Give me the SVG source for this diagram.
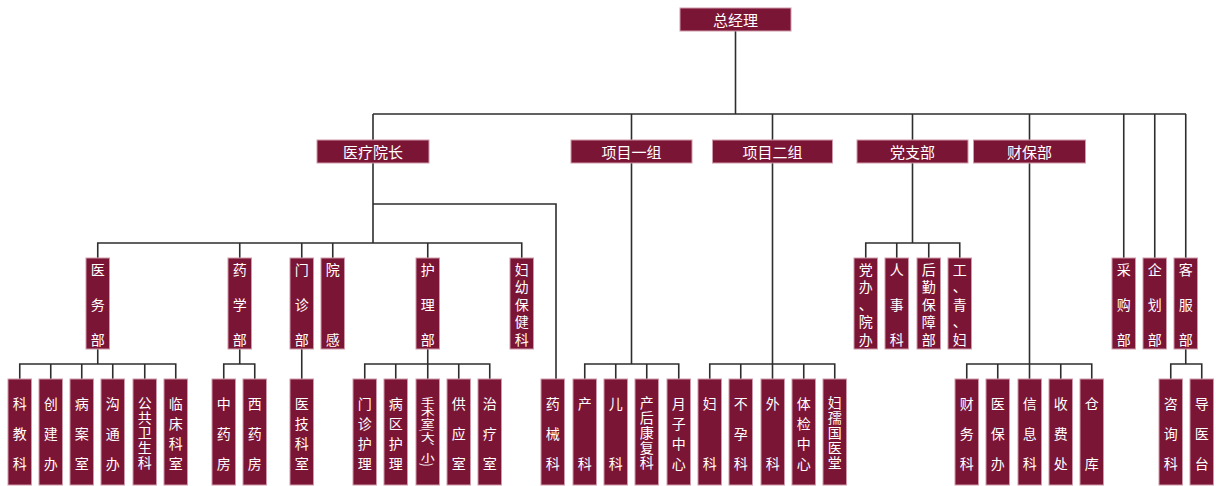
<svg xmlns="http://www.w3.org/2000/svg" width="1216" height="486" viewBox="0 0 1216 486">
<style>
.b{fill:#7b1535;stroke:#cf9aaa;stroke-width:1}
.t{fill:#ffffff;font-family:"Noto Sans CJK SC","Noto Sans",sans-serif;font-size:14px;text-anchor:middle;dominant-baseline:central}
.h{font-size:15px}
.v{writing-mode:vertical-rl;letter-spacing:1px}
#connectors path{fill:none;stroke:#2e2e2e;stroke-width:1.6}
</style>
<rect width="1216" height="486" fill="#ffffff"/>
<g id="connectors">
<path d="M735.5 31V114M373 114H1186M373 114V140M631.5 114V140M772.5 114V140M912.5 114V140M1029.5 114V140M1123.75 114V258M1154.75 114V258M1185.75 114V258"/>
<path d="M373 163V243M97.75 258V243H521.75V258M239.75 243V258M301.75 243V258M332.75 243V258M427.75 243V258"/>
<path d="M373 204H556V379"/>
<path d="M97.75 349V364M19.75 379V364H175.75V379M50.75 364V379M81.75 364V379M112.75 364V379M144.75 364V379"/>
<path d="M239.75 349V364M223.75 379V364H254.75V379"/>
<path d="M301.75 349V379"/>
<path d="M427.75 349V379M364.75 379V364H489.75V379M395.75 364V379M458.75 364V379"/>
<path d="M631.5 163V364M584.75 379V364H678.75V379M615.75 364V379M646.75 364V379"/>
<path d="M772.5 163V379M709.75 379V364H834.75V379M740.75 364V379M803.75 364V379"/>
<path d="M912.5 163V243M865.75 258V243H959.75V258M896.75 243V258M928.75 243V258"/>
<path d="M1029.5 163V379M966.75 379V364H1091.75V379M997.75 364V379M1060.75 364V379"/>
<path d="M1185.75 349V364M1170.75 379V364H1201.75V379"/>
</g>
<g id="n-zjl"><rect class="b" x="680" y="8" width="111" height="23"/><text class="t h" x="735.5" y="19.5">总经理</text></g>
<g id="n-ylyz"><rect class="b" x="317" y="140" width="112" height="23"/><text class="t h" x="373" y="151.5">医疗院长</text></g>
<g id="n-xm1"><rect class="b" x="571" y="140" width="121" height="23"/><text class="t h" x="631.5" y="151.5">项目一组</text></g>
<g id="n-xm2"><rect class="b" x="712.5" y="140" width="120" height="23"/><text class="t h" x="772.5" y="151.5">项目二组</text></g>
<g id="n-dzb"><rect class="b" x="857" y="140" width="111" height="23"/><text class="t h" x="912.5" y="151.5">党支部</text></g>
<g id="n-cbb"><rect class="b" x="973.5" y="140" width="112" height="23"/><text class="t h" x="1029.5" y="151.5">财保部</text></g>

<g id="n-ywb"><rect class="b" x="86" y="258" width="23.5" height="91"/><text class="t"><tspan x="97.75" y="268.5">医</tspan><tspan x="97.75" y="303.75">务</tspan><tspan x="97.75" y="339">部</tspan></text></g>
<g id="n-yxb"><rect class="b" x="228" y="258" width="23.5" height="91"/><text class="t"><tspan x="239.75" y="268.5">药</tspan><tspan x="239.75" y="303.75">学</tspan><tspan x="239.75" y="339">部</tspan></text></g>
<g id="n-mzb"><rect class="b" x="290" y="258" width="23.5" height="91"/><text class="t"><tspan x="301.75" y="268.5">门</tspan><tspan x="301.75" y="303.75">诊</tspan><tspan x="301.75" y="339">部</tspan></text></g>
<g id="n-yg"><rect class="b" x="321" y="258" width="23.5" height="91"/><text class="t"><tspan x="332.75" y="268.5">院</tspan><tspan x="332.75" y="339">感</tspan></text></g>
<g id="n-hlb"><rect class="b" x="416" y="258" width="23.5" height="91"/><text class="t"><tspan x="427.75" y="268.5">护</tspan><tspan x="427.75" y="303.75">理</tspan><tspan x="427.75" y="339">部</tspan></text></g>
<g id="n-fybjk"><rect class="b" x="510" y="258" width="23.5" height="91"/><text class="t"><tspan x="521.75" y="268.5">妇</tspan><tspan x="521.75" y="286.1">幼</tspan><tspan x="521.75" y="303.75">保</tspan><tspan x="521.75" y="321.4">健</tspan><tspan x="521.75" y="339">科</tspan></text></g>
<g id="n-dbyb"><rect class="b" x="854" y="258" width="23.5" height="91"/><text class="t"><tspan x="865.75" y="268.5">党</tspan><tspan x="865.75" y="286.1">办</tspan><tspan x="865.75" y="303.75">、</tspan><tspan x="865.75" y="321.4">院</tspan><tspan x="865.75" y="339">办</tspan></text></g>
<g id="n-rsk"><rect class="b" x="885" y="258" width="23.5" height="91"/><text class="t"><tspan x="896.75" y="268.5">人</tspan><tspan x="896.75" y="303.75">事</tspan><tspan x="896.75" y="339">科</tspan></text></g>
<g id="n-hqbzb"><rect class="b" x="917" y="258" width="23.5" height="91"/><text class="t"><tspan x="928.75" y="268.5">后</tspan><tspan x="928.75" y="286.1">勤</tspan><tspan x="928.75" y="303.75">保</tspan><tspan x="928.75" y="321.4">障</tspan><tspan x="928.75" y="339">部</tspan></text></g>
<g id="n-gqf"><rect class="b" x="948" y="258" width="23.5" height="91"/><text class="t"><tspan x="959.75" y="268.5">工</tspan><tspan x="959.75" y="286.1">、</tspan><tspan x="959.75" y="303.75">青</tspan><tspan x="959.75" y="321.4">、</tspan><tspan x="959.75" y="339">妇</tspan></text></g>
<g id="n-cgb"><rect class="b" x="1112" y="258" width="23.5" height="91"/><text class="t"><tspan x="1123.75" y="268.5">采</tspan><tspan x="1123.75" y="303.75">购</tspan><tspan x="1123.75" y="339">部</tspan></text></g>
<g id="n-qhb"><rect class="b" x="1143" y="258" width="23.5" height="91"/><text class="t"><tspan x="1154.75" y="268.5">企</tspan><tspan x="1154.75" y="303.75">划</tspan><tspan x="1154.75" y="339">部</tspan></text></g>
<g id="n-kfb"><rect class="b" x="1174" y="258" width="23.5" height="91"/><text class="t"><tspan x="1185.75" y="268.5">客</tspan><tspan x="1185.75" y="303.75">服</tspan><tspan x="1185.75" y="339">部</tspan></text></g>

<g id="n-kjk"><rect class="b" x="8" y="379" width="23.5" height="106"/><text class="t"><tspan x="19.75" y="403">科</tspan><tspan x="19.75" y="433">教</tspan><tspan x="19.75" y="463">科</tspan></text></g>
<g id="n-cjb"><rect class="b" x="39" y="379" width="23.5" height="106"/><text class="t"><tspan x="50.75" y="403">创</tspan><tspan x="50.75" y="433">建</tspan><tspan x="50.75" y="463">办</tspan></text></g>
<g id="n-bas"><rect class="b" x="70" y="379" width="23.5" height="106"/><text class="t"><tspan x="81.75" y="403">病</tspan><tspan x="81.75" y="433">案</tspan><tspan x="81.75" y="463">室</tspan></text></g>
<g id="n-gtb"><rect class="b" x="101" y="379" width="23.5" height="106"/><text class="t"><tspan x="112.75" y="403">沟</tspan><tspan x="112.75" y="433">通</tspan><tspan x="112.75" y="463">办</tspan></text></g>
<g id="n-ggwsk"><rect class="b" x="133" y="379" width="23.5" height="106"/><text class="t v" x="144.75" y="433">公共卫生科</text></g>
<g id="n-lcks"><rect class="b" x="164" y="379" width="23.5" height="106"/><text class="t"><tspan x="175.75" y="403">临</tspan><tspan x="175.75" y="423">床</tspan><tspan x="175.75" y="443">科</tspan><tspan x="175.75" y="463">室</tspan></text></g>
<g id="n-zyf"><rect class="b" x="212" y="379" width="23.5" height="106"/><text class="t"><tspan x="223.75" y="403">中</tspan><tspan x="223.75" y="433">药</tspan><tspan x="223.75" y="463">房</tspan></text></g>
<g id="n-xyf"><rect class="b" x="243" y="379" width="23.5" height="106"/><text class="t"><tspan x="254.75" y="403">西</tspan><tspan x="254.75" y="433">药</tspan><tspan x="254.75" y="463">房</tspan></text></g>
<g id="n-yjks"><rect class="b" x="290" y="379" width="23.5" height="106"/><text class="t"><tspan x="301.75" y="403">医</tspan><tspan x="301.75" y="423">技</tspan><tspan x="301.75" y="443">科</tspan><tspan x="301.75" y="463">室</tspan></text></g>
<g id="n-mzhl"><rect class="b" x="353" y="379" width="23.5" height="106"/><text class="t"><tspan x="364.75" y="403">门</tspan><tspan x="364.75" y="423">诊</tspan><tspan x="364.75" y="443">护</tspan><tspan x="364.75" y="463">理</tspan></text></g>
<g id="n-bqhl"><rect class="b" x="384" y="379" width="23.5" height="106"/><text class="t"><tspan x="395.75" y="403">病</tspan><tspan x="395.75" y="423">区</tspan><tspan x="395.75" y="443">护</tspan><tspan x="395.75" y="463">理</tspan></text></g>
<g id="n-sss"><rect class="b" x="416" y="379" width="23.5" height="106"/><text class="t" writing-mode="vertical-rl" transform="translate(427.75,431.5) scale(1,0.75)" x="0" y="0">手术室(大、小)</text></g>
<g id="n-gys"><rect class="b" x="447" y="379" width="23.5" height="106"/><text class="t"><tspan x="458.75" y="403">供</tspan><tspan x="458.75" y="433">应</tspan><tspan x="458.75" y="463">室</tspan></text></g>
<g id="n-zls"><rect class="b" x="478" y="379" width="23.5" height="106"/><text class="t"><tspan x="489.75" y="403">治</tspan><tspan x="489.75" y="433">疗</tspan><tspan x="489.75" y="463">室</tspan></text></g>
<g id="n-yxk"><rect class="b" x="541" y="379" width="23.5" height="106"/><text class="t"><tspan x="552.75" y="403">药</tspan><tspan x="552.75" y="433">械</tspan><tspan x="552.75" y="463">科</tspan></text></g>
<g id="n-ck"><rect class="b" x="573" y="379" width="23.5" height="106"/><text class="t"><tspan x="584.75" y="403">产</tspan><tspan x="584.75" y="463">科</tspan></text></g>
<g id="n-ek"><rect class="b" x="604" y="379" width="23.5" height="106"/><text class="t"><tspan x="615.75" y="403">儿</tspan><tspan x="615.75" y="463">科</tspan></text></g>
<g id="n-chkfk"><rect class="b" x="635" y="379" width="23.5" height="106"/><text class="t v" x="646.75" y="433">产后康复科</text></g>
<g id="n-yzzx"><rect class="b" x="667" y="379" width="23.5" height="106"/><text class="t"><tspan x="678.75" y="403">月</tspan><tspan x="678.75" y="423">子</tspan><tspan x="678.75" y="443">中</tspan><tspan x="678.75" y="463">心</tspan></text></g>
<g id="n-fk"><rect class="b" x="698" y="379" width="23.5" height="106"/><text class="t"><tspan x="709.75" y="403">妇</tspan><tspan x="709.75" y="463">科</tspan></text></g>
<g id="n-byk"><rect class="b" x="729" y="379" width="23.5" height="106"/><text class="t"><tspan x="740.75" y="403">不</tspan><tspan x="740.75" y="433">孕</tspan><tspan x="740.75" y="463">科</tspan></text></g>
<g id="n-wk"><rect class="b" x="761" y="379" width="23.5" height="106"/><text class="t"><tspan x="772.75" y="403">外</tspan><tspan x="772.75" y="463">科</tspan></text></g>
<g id="n-tjzx"><rect class="b" x="792" y="379" width="23.5" height="106"/><text class="t"><tspan x="803.75" y="403">体</tspan><tspan x="803.75" y="423">检</tspan><tspan x="803.75" y="443">中</tspan><tspan x="803.75" y="463">心</tspan></text></g>
<g id="n-frgyt"><rect class="b" x="823" y="379" width="23.5" height="106"/><text class="t v" x="834.75" y="433">妇孺国医堂</text></g>
<g id="n-cwk"><rect class="b" x="955" y="379" width="23.5" height="106"/><text class="t"><tspan x="966.75" y="403">财</tspan><tspan x="966.75" y="433">务</tspan><tspan x="966.75" y="463">科</tspan></text></g>
<g id="n-ybb"><rect class="b" x="986" y="379" width="23.5" height="106"/><text class="t"><tspan x="997.75" y="403">医</tspan><tspan x="997.75" y="433">保</tspan><tspan x="997.75" y="463">办</tspan></text></g>
<g id="n-xxk"><rect class="b" x="1018" y="379" width="23.5" height="106"/><text class="t"><tspan x="1029.75" y="403">信</tspan><tspan x="1029.75" y="433">息</tspan><tspan x="1029.75" y="463">科</tspan></text></g>
<g id="n-sfc"><rect class="b" x="1049" y="379" width="23.5" height="106"/><text class="t"><tspan x="1060.75" y="403">收</tspan><tspan x="1060.75" y="433">费</tspan><tspan x="1060.75" y="463">处</tspan></text></g>
<g id="n-ck2"><rect class="b" x="1080" y="379" width="23.5" height="106"/><text class="t"><tspan x="1091.75" y="403">仓</tspan><tspan x="1091.75" y="463">库</tspan></text></g>
<g id="n-zxk"><rect class="b" x="1159" y="379" width="23.5" height="106"/><text class="t"><tspan x="1170.75" y="403">咨</tspan><tspan x="1170.75" y="433">询</tspan><tspan x="1170.75" y="463">科</tspan></text></g>
<g id="n-dyt"><rect class="b" x="1190" y="379" width="23.5" height="106"/><text class="t"><tspan x="1201.75" y="403">导</tspan><tspan x="1201.75" y="433">医</tspan><tspan x="1201.75" y="463">台</tspan></text></g>
</svg>
